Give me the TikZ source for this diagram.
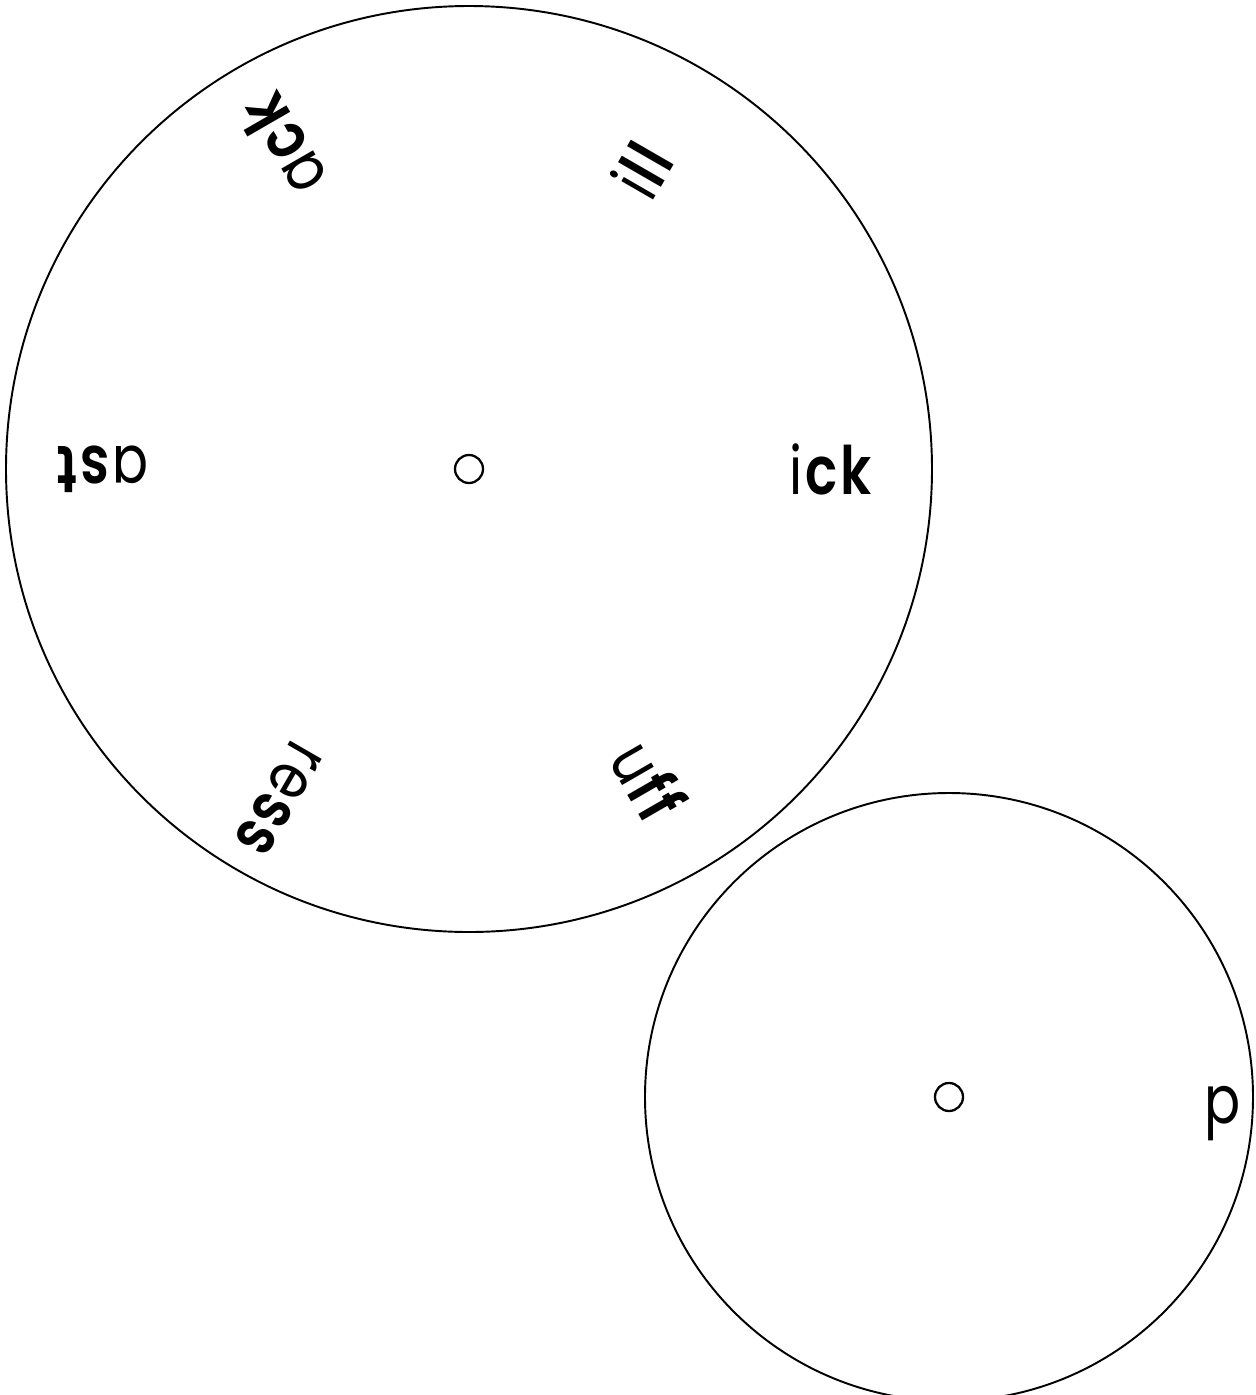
\documentclass[tikz,border=0pt]{standalone}
\usepackage{fontspec}
\setmainfont{Poppins}[FakeStretch=0.8, LetterSpace=4, BoldFont={Poppins SemiBold}, BoldFeatures={FakeStretch=0.8, LetterSpace=4}]
\usetikzlibrary{positioning,calc}
\definecolor{ink}{RGB}{0,0,0}
\tikzset{
  every picture/.style={color=ink, line width=1.1pt},
  wheel/.style={draw=ink, circle, inner sep=0pt},
  hole/.style={wheel, line width=1.3pt, minimum size=5.6mm},
  rim/.style={font=\fontsize{38}{42}\selectfont, inner sep=0pt},
}

\begin{document}
\begin{tikzpicture}
  \useasboundingbox (0,0) rectangle (25.12,-27.9);
  \begin{scope}
    \clip (0,0) rectangle (25.12,-27.9);
    \node[wheel, minimum size=185.2mm] (big) at (9.38,-9.38) {};
    \node[wheel, minimum size=121.6mm] (small) at (18.98,-21.94) {};
  \end{scope}
  \node[hole] (bighole) at (big.center) {};
  \node[hole] (smallhole) at (small.center) {};
  % onsets on the big wheel, one every 60 degrees
  \foreach \ang/\thin/\thick in {0/i/ck, 60/i/ll, 120/a/ck, 180/a/st, 240/re/ss, 300/u/ff}
    \node[rim, rotate=\ang, anchor=west] (rime\ang) at ([shift={(\ang:6.4)}]big.center) {\thin\textbf{\thick}};
  \node[rim, anchor=base west] (onset) at ([shift={(5.1,-0.52)}]small.center) {p};
\end{tikzpicture}
\end{document}
